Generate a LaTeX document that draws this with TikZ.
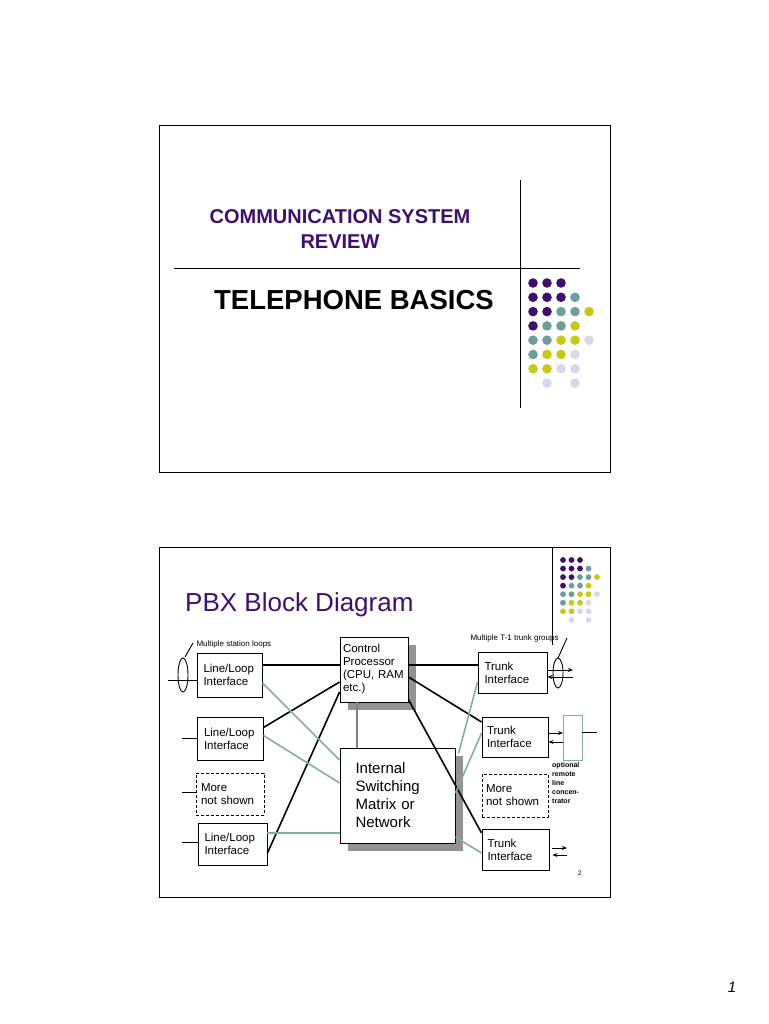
\documentclass[tikz,border=0pt]{standalone}
\usepackage{fontspec}
\setmainfont{Liberation Sans}
\usetikzlibrary{shadows,arrows.meta}

\definecolor{P}{HTML}{3F0F6E}
\definecolor{T}{HTML}{6C9E9E}
\definecolor{Y}{HTML}{C8C818}
\definecolor{L}{HTML}{D8D8EC}
\definecolor{N}{HTML}{FFFFFF}
\definecolor{linkteal}{HTML}{7FAFA8}

\tikzset{
  box/.style={draw, fill=white, line width=0.9pt, inner sep=3pt, align=left, font=\fontsize{11.5}{13}\selectfont},
  dashbox/.style={box, densely dashed},
  shade/.style={drop shadow={shadow xshift=8pt, shadow yshift=-8pt, fill=gray!85, opacity=1}},
  ctrl/.style={black, line width=1.6pt},
  sw/.style={linkteal, line width=1.6pt},
  tip/.style={-{Stealth[length=5pt,width=4pt]}, line width=0.9pt},
  small/.style={font=\fontsize{8}{9}\selectfont}
}

\begin{document}
\begin{tikzpicture}[x=1pt, y=-1pt]
\useasboundingbox (0,0) rectangle (768,1024);

% First slide
\draw[line width=1pt] (159,126) rectangle (610,472);
\draw[line width=1pt] (520,180) -- (520,408);
\draw[line width=1pt] (174,268) -- (580,268);
\node[font=\bfseries\fontsize{20}{25}\selectfont, text=P, align=center] (revtitle) at (340,229) {COMMUNICATION SYSTEM\\REVIEW};
\node[font=\bfseries\fontsize{27.5}{30}\selectfont] (basics) at (354,300) {TELEPHONE BASICS};

% Dot patterns
\foreach \row/\cols in {0/{P,P,P,N,N},1/{P,P,P,T,N},2/{P,P,T,T,Y},3/{P,T,T,Y,N},
                         4/{T,T,Y,Y,L},5/{T,Y,Y,L,N},6/{Y,Y,L,L,N},7/{N,L,N,L,N}}{
  \foreach \c [count=\i from 0] in \cols {
    \fill[\c] (533+14*\i,283+14.3*\row) circle (4.8);
    \fill[\c] (563+8.5*\i,560+8.55*\row) circle (2.9);
  }
}

% Second slide
\draw[line width=1pt] (159,547) rectangle (610,897);
\draw[line width=1pt] (552,547) -- (552,645);
\node[font=\fontsize{26}{30}\selectfont, text=P, anchor=west, inner sep=0pt] (pbxtitle) at (185,605) {PBX Block Diagram};

% Blocks
\node[box, minimum width=65, minimum height=44, text width=52] (ll1) at (229.5,675) {Line/Loop\\Interface};
\node[box, minimum width=66, minimum height=43, text width=52] (ll2) at (230,738.5) {Line/Loop\\Interface};
\node[dashbox, minimum width=68, minimum height=42, text width=58] (more1) at (230,794) {More\\not shown};
\node[box, minimum width=69, minimum height=42, text width=56] (ll3) at (232.5,844) {Line/Loop\\Interface};
\node[box, shade, minimum width=68, minimum height=65, text width=62] (cp) at (374,669.5) {Control\\Processor\\(CPU, RAM\\etc.)};
\node[box, shade, minimum width=115, minimum height=95, text width=84, font=\fontsize{15}{18}\selectfont] (ism) at (397.5,795.5) {Internal\\Switching\\Matrix or\\Network};
\node[box, minimum width=69, minimum height=41, text width=56] (t1) at (512.5,672.5) {Trunk\\Interface};
\node[box, minimum width=66, minimum height=40, text width=56] (t2) at (515,737) {Trunk\\Interface};
\node[dashbox, minimum width=66, minimum height=43, text width=58] (more2) at (515,795.5) {More\\not shown};
\node[box, minimum width=67, minimum height=41, text width=56] (t3) at (515.5,849.5) {Trunk\\Interface};
\node[draw=linkteal, line width=0.9pt, minimum width=19, minimum height=45, inner sep=0pt] (conc) at (572.5,737.5) {};

% Processor link between blocks
\draw[gray, line width=2.5pt] ([xshift=-17]cp.south) -- ([xshift=-40.5]ism.north);

% Control links
\draw[ctrl] ([yshift=10]ll1.east) -- ([yshift=4.5]cp.west);
\draw[ctrl] ([yshift=11]ll2.east) -- ([yshift=-12.5]cp.west);
\draw[ctrl] ([yshift=-9]ll3.east) -- ([yshift=-22.5]cp.west);
\draw[ctrl] ([yshift=4.5]cp.east) -- ([yshift=7.5]t1.west);
\draw[ctrl] ([yshift=-7.5]cp.east) -- ([yshift=15]t2.west);
\draw[ctrl] ([yshift=-30]cp.east) -- ([yshift=16.5]t3.west);

% Switching links
\draw[sw] ([yshift=-8]ll1.east) -- ([yshift=35.5]ism.west);
\draw[sw] ([yshift=3]ll2.east) -- ([yshift=12.5]ism.west);
\draw[sw] ([yshift=11]ll3.east) -- ([yshift=-37.5]ism.west);
\draw[sw] ([yshift=-9.5]t1.west) -- ([xshift=3,yshift=42]ism.east);
\draw[sw] ([yshift=4]t2.west) -- ([yshift=2.5]ism.east);
\draw[sw] ([yshift=-3.5]t3.west) -- ([yshift=-41.5]ism.east);

% Station loops
\coordinate (in1) at (168,680);
\coordinate (in2) at (182,738);
\coordinate (in3) at (182,792);
\coordinate (in4) at (182,842);
\draw[line width=0.9pt] (in1) -- (in1 -| ll1.west);
\draw[line width=0.9pt] (in2) -- (in2 -| ll2.west);
\draw[line width=0.9pt] (in3) -- (in3 -| more1.west);
\draw[line width=0.9pt] (in4) -- (in4 -| ll3.west);
\draw[line width=0.9pt] (183,675) ellipse (5 and 17);
\draw[line width=0.9pt] (193,643) -- (185,657);
\node[small, anchor=west] (looplabel) at (193,644) {Multiple station loops};

% Trunk groups
\coordinate (out1) at (573,670);
\coordinate (out2) at (573,677);
\draw[tip] (out1 -| t1.east) -- (out1);
\draw[tip] (out2) -- (out2 -| t1.east);
\draw[line width=0.9pt] (558,673) ellipse (5 and 15);
\draw[line width=0.9pt] (567,638) -- (558,658);
\node[small, anchor=west] (trunklabel) at (467,638) {Multiple T-1 trunk groups};

\coordinate (c1) at (563,733);
\coordinate (c2) at (563,742);
\draw[tip] (c1 -| t2.east) -- (c1);
\draw[tip] (c2) -- (c2 -| t2.east);
\coordinate (cout) at (597,732);
\draw[line width=0.9pt] (conc.east |- cout) -- (cout);

\coordinate (o1) at (567,848);
\coordinate (o2) at (567,855);
\draw[tip] ([xshift=3]o1 -| t3.east) -- (o1);
\draw[tip] (o2) -- ([xshift=3]o2 -| t3.east);

\node[font=\bfseries\fontsize{7}{9}\selectfont, anchor=north west, align=left, inner sep=0pt] (concnote) at (552,762) {optional\\remote\\line\\concen-\\trator};
\node[font=\fontsize{6.5}{7}\selectfont] (pagenum) at (580,873) {2};
\node[font=\itshape\fontsize{15}{16}\selectfont] (sheet) at (732,987) {1};
\end{tikzpicture}
\end{document}
